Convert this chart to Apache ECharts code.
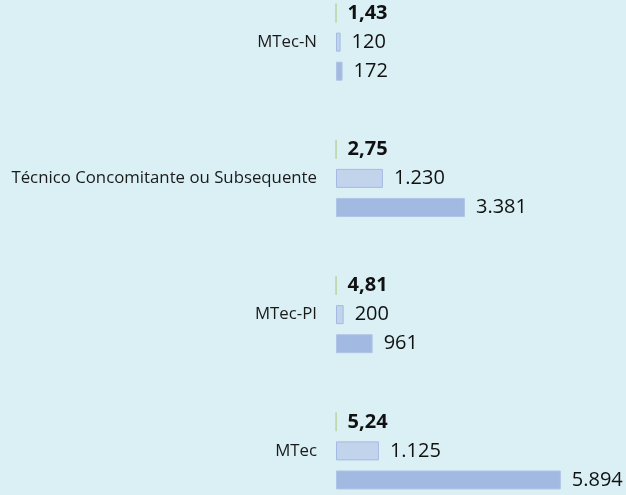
<!DOCTYPE html>
<html>
<head>
<meta charset="utf-8">
<script src="https://cdn.jsdelivr.net/npm/echarts@6/dist/echarts.min.js"></script>
<style>
  html, body { margin: 0; padding: 0; background: #daf0f5; overflow: hidden; }
  #chart { width: 626px; height: 545px; margin-top: -26px; }
</style>
</head>
<body>
<div id="chart"></div>
<script>
// dados
const categories = ["MTec-N", "Técnico Concomitante ou Subsequente", "MTec-PI", "MTec"];
const ratio = [1.43, 2.75, 4.81, 5.24];
const serieA = [120, 1230, 200, 1125];
const serieB = [172, 3381, 961, 5894];

const fmtInt = v => String(v).replace(/\B(?=(\d{3})+(?!\d))/g, ".");
const fmtDec = v => v.toFixed(2).replace(".", ",");

let chart = echarts.init(document.getElementById("chart"));
chart.setOption({
  backgroundColor: "#daf0f5",
  animation: false,
  textStyle: { fontFamily: "Open Sans" },
  grid: { left: 336, top: 0, width: 267, height: 545, containLabel: false },
  xAxis: {
    type: "value",
    min: 0,
    max: 7000,
    show: false
  },
  yAxis: {
    type: "category",
    data: categories,
    inverse: true,
    axisLine: { show: false },
    axisTick: { show: false },
    axisLabel: { margin: 19, fontSize: 16.8, color: "#1a1a1a", fontFamily: "Open Sans" }
  },
  series: [
    {
      name: "razão",
      type: "bar",
      data: ratio,
      barWidth: 19,
      barGap: "53%",
      itemStyle: { color: "#b8d4a0", borderColor: "#b8d4a0", borderWidth: 1 },
      label: {
        show: true, position: "right", distance: 11,
        fontSize: 20, fontWeight: "bold", color: "#111",
        formatter: p => fmtDec(p.value)
      }
    },
    {
      name: "A",
      type: "bar",
      data: serieA,
      barWidth: 19,
      barGap: "53%",
      itemStyle: { color: "#c2d3ec", borderColor: "#a3bbe3", borderWidth: 1 },
      label: {
        show: true, position: "right", distance: 11,
        fontSize: 20, color: "#111",
        formatter: p => fmtInt(p.value)
      }
    },
    {
      name: "B",
      type: "bar",
      data: serieB,
      barWidth: 19,
      barGap: "53%",
      itemStyle: { color: "#a2b9e1", borderColor: "#b0c4e6", borderWidth: 1 },
      label: {
        show: true, position: "right", distance: 11,
        fontSize: 20, color: "#111",
        formatter: p => fmtInt(p.value)
      }
    }
  ]
});
</script>
</body>
</html>
